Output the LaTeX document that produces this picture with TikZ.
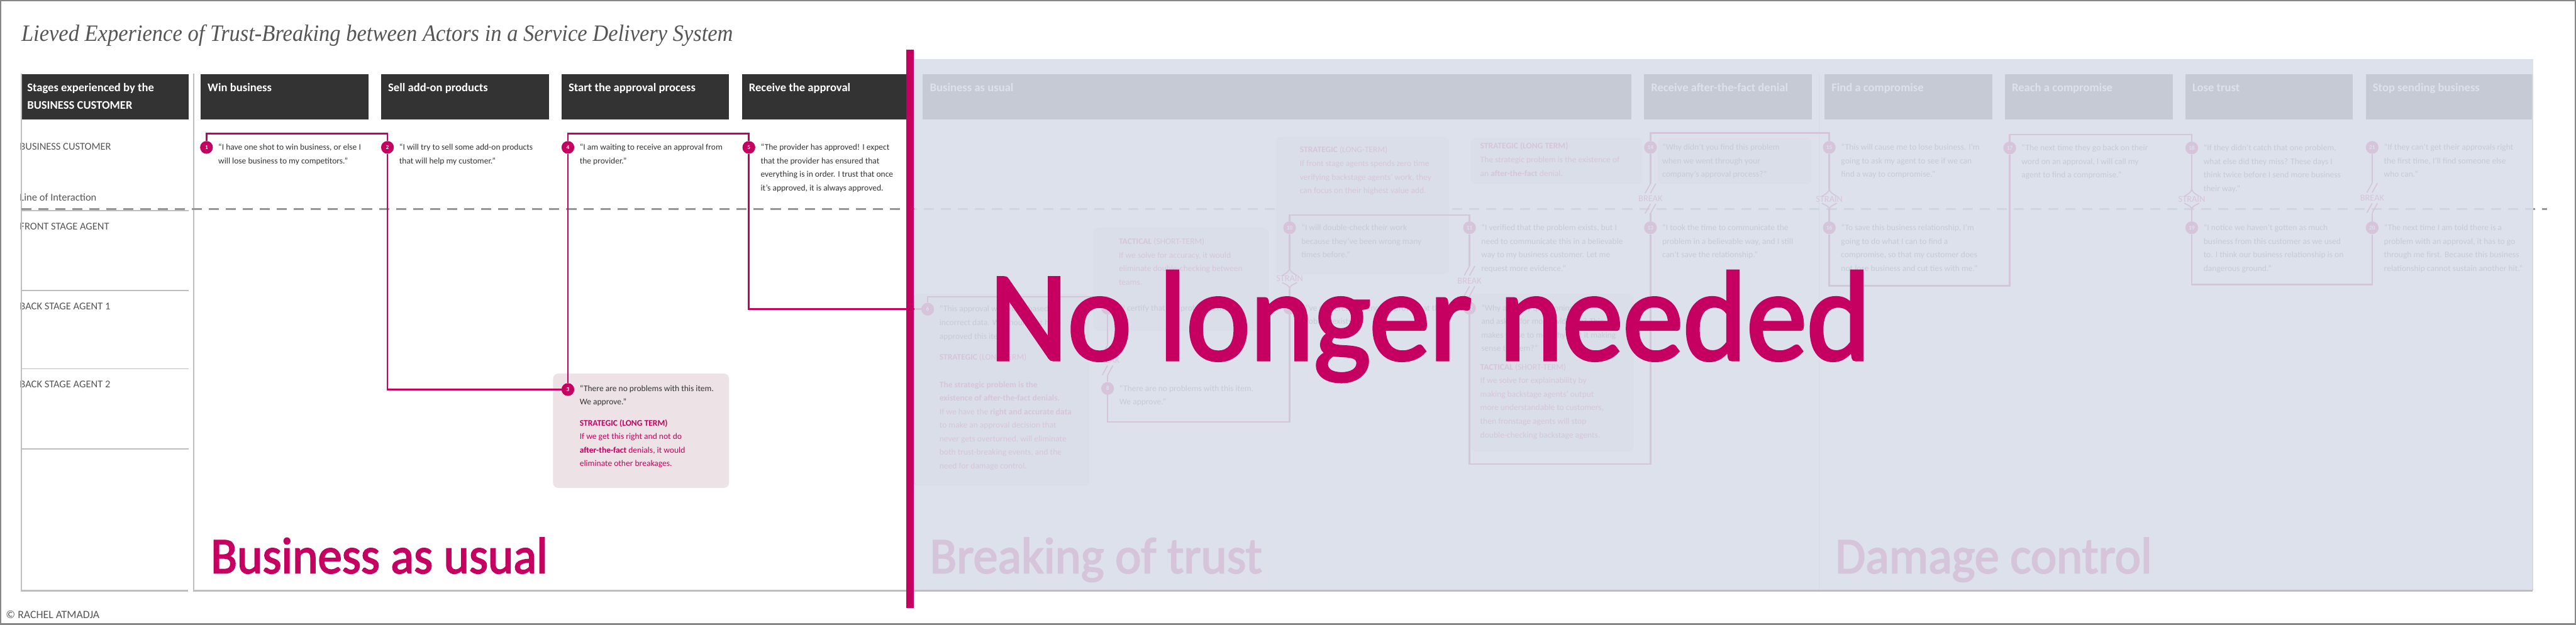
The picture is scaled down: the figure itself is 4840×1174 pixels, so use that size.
\documentclass[tikz,border=0pt]{standalone}
\usepackage{fontspec}
\usepackage{graphicx}
\setmainfont{Carlito}
\newfontfamily\qfam{Carlito}
\newfontfamily\bigfam{Carlito}[FakeBold=2.5]
\newfontfamily\titlefam{Liberation Serif}
\usetikzlibrary{calc}

\definecolor{mag}{RGB}{197,0,96}
\definecolor{hdr}{RGB}{51,51,51}
\definecolor{qgray}{RGB}{51,51,51}
\definecolor{lgray}{RGB}{85,85,85}
\definecolor{pinkbox}{RGB}{237,227,230}
\definecolor{framec}{RGB}{190,190,190}
\definecolor{dashc}{RGB}{150,150,150}
\definecolor{veil}{RGB}{216,222,234}
\definecolor{borderc}{RGB}{135,135,135}

\newcommand{\ql}[1]{\begin{tabular}[t]{@{}l@{}}#1\end{tabular}}
\newcommand{\fitw}[3]{\resizebox{#1}{\height}{\fontsize{#2}{#2}\selectfont #3}}

\newcommand{\brk}[3]{%
  \coordinate (#1-u) at (#2,#3-28);
  \coordinate (#1-d) at (#2,#3+28);
  \draw[mysym] (#2,#3-28) -- (#2-10,#3-10);
  \draw[mysym] (#2+10,#3-28) -- (#2,#3-10);
  \draw[mysym] (#2,#3+28) -- (#2+10,#3+10);
  \draw[mysym] (#2-10,#3+28) -- (#2,#3+10);
  \node[mysymtext] (#1) at (#2,#3+5.5) {BREAK};
}
\newcommand{\strn}[3]{%
  \coordinate (#1-u) at (#2,#3-20);
  \coordinate (#1-d) at (#2,#3+20);
  \draw[mysym] (#2-14,#3-5) .. controls (#2-6,#3-10) and (#2,#3-13) .. (#2,#3-20);
  \draw[mysym] (#2+14,#3-5) .. controls (#2+6,#3-10) and (#2,#3-13) .. (#2,#3-20);
  \draw[mysym] (#2-14,#3+8) .. controls (#2-6,#3+12) and (#2,#3+14) .. (#2,#3+20);
  \draw[mysym] (#2+14,#3+8) .. controls (#2+6,#3+12) and (#2,#3+14) .. (#2,#3+20);
  \node[mysymtext] (#1) at (#2,#3+5.5) {STRAIN};
}

\begin{document}
\begin{tikzpicture}[x=1pt,y=-1pt,
  myconn/.style={draw=mag, line width=3pt},
  mymk/.style={circle, fill=mag, minimum size=24pt, inner sep=0pt, text=white, font=\fontsize{11}{11}\selectfont\bfseries},
  myquote/.style={anchor=base west, inner sep=0pt, text=qgray, font=\qfam\fontsize{16}{25.5}\selectfont},
  mynote/.style={myquote, text=mag},
  myhtext/.style={anchor=base west, inner sep=0pt, text=white, font=\fontsize{22}{33}\selectfont\bfseries},
  mylane/.style={anchor=base west, inner sep=0pt, text=lgray, font=\fontsize{19.5}{19.5}\selectfont},
  mysymtext/.style={anchor=base, inner sep=0pt, text=mag, font=\fontsize{17}{17}\selectfont},
  mysym/.style={draw=mag, line width=2pt},
  myframe/.style={draw=framec, line width=3pt},
  mysep/.style={draw=framec, line width=2pt},
  mybig/.style={anchor=base west, inner sep=0pt, text=mag},
  mypink/.style={fill=pinkbox, rounded corners=10pt},
]
\useasboundingbox (0,0) rectangle (4840,1174);
\fill[white] (0,0) rectangle (4840,1174);
\draw[borderc, line width=2.5pt] (1.25,1.25) rectangle (4838.75,1172.75);

% title
\node[anchor=base west, inner sep=0pt, text=lgray] (title) at (40,77)
  {\fitw{1337pt}{44}{\titlefam\itshape Lieved Experience of Trust-Breaking between Actors in a Service Delivery System}};

% header boxes
\fill[hdr] (41,139) rectangle (354,225);
\fill[hdr] (377,139) rectangle (692,225);
\fill[hdr] (716,139) rectangle (1031,225);
\fill[hdr] (1055,139) rectangle (1370,225);
\fill[hdr] (1394,139) rectangle (1709,225);
\fill[hdr] (1733,139) rectangle (3065,225);
\fill[hdr] (3089,139) rectangle (3404,225);
\fill[hdr] (3428,139) rectangle (3743,225);
\fill[hdr] (3767,139) rectangle (4082,225);
\fill[hdr] (4106,139) rectangle (4421,225);
\fill[hdr] (4445,139) rectangle (4760,225);

\node[myhtext] (h0) at (51,172) {\ql{Stages experienced by the\\BUSINESS CUSTOMER}};
\node[myhtext] (h1) at (390,172) {Win business};
\node[myhtext] (h2) at (729,172) {Sell add-on products};
\node[myhtext] (h3) at (1068,172) {Start the approval process};
\node[myhtext] (h4) at (1407,172) {Receive the approval};
\node[myhtext] (h5) at (1747,172) {Business as usual};
\node[myhtext] (h9) at (3102,172) {Receive after-the-fact denial};
\node[myhtext] (h10) at (3441,172) {Find a compromise};
\node[myhtext] (h11) at (3780,172) {Reach a compromise};
\node[myhtext] (h12) at (4119,172) {Lose trust};
\node[myhtext] (h13) at (4458,172) {Stop sending business};

% lane labels
\node[mylane] (l1) at (37,282) {BUSINESS CUSTOMER};
\node[mylane] (l2) at (37,378) {Line of Interaction};
\node[mylane] (l3) at (37,432) {FRONT STAGE AGENT};
\node[mylane] (l4) at (37,582) {BACK STAGE AGENT 1};
\node[mylane] (l5) at (37,729) {BACK STAGE AGENT 2};

% frame
\draw[myframe] (40,138) -- (40,1110) -- (353,1110);
\draw[myframe] (364,138) -- (364,1110) -- (4758,1110);
\draw[mysep] (3418,139) -- (3418,1110);
\draw[mysep] (4758,139) -- (4758,1110);
\draw[mysep] (40,396) -- (354,396);
\draw[mysep] (40,546) -- (354,546);
\draw[mysep] (40,693) -- (354,693);
\draw[mysep] (40,844) -- (354,844);
\draw[dashc, line width=3pt, dash pattern=on 19pt off 13pt] (40,393) -- (4785,393);

% boxes
\fill[mypink] (1039,702) rectangle (1370,917);
\fill[mypink] (1715,552) rectangle (2047,914);
\fill[mypink] (2054,428) rectangle (2384,622);
\fill[mypink] (2397,257) rectangle (2723,515);
\fill[mypink] (2763,258) rectangle (3085,347);
\fill[mypink] (3115,258) rectangle (3403,347);
\fill[mypink] (2763,552) rectangle (3069,849);

% markers
\node[mymk] (m1) at (388,277) {1};
\node[mymk] (m2) at (728,277) {2};
\node[mymk] (m3) at (1067,732) {3};
\node[mymk] (m4) at (1067,277) {4};
\node[mymk] (m5) at (1407,277) {5};
\node[mymk] (m6) at (1743,581) {6};
\node[mymk] (m7) at (2081,579) {7};
\node[mymk] (m8) at (2081,730) {8};
\node[mymk] (m9) at (2423,579) {9};
\node[mymk] (m10) at (2423,428) {10};
\node[mymk] (m11) at (2761,428) {11};
\node[mymk] (m12) at (2761,579) {12};
\node[mymk] (m13) at (3101,428) {13};
\node[mymk] (m14) at (3101,277) {14};
\node[mymk] (m15) at (3437,277) {15};
\node[mymk] (m16) at (3437,428) {16};
\node[mymk] (m17) at (3776,278) {17};
\node[mymk] (m18) at (4118,278) {18};
\node[mymk] (m19) at (4118,428) {19};
\node[mymk] (m20) at (4457,428) {20};
\node[mymk] (m21) at (4457,277) {21};

% corner coordinates
\coordinate (k1) at (388,251);
\coordinate (k2) at (728,251);
\coordinate (k3) at (728,732);
\coordinate (k4) at (1067,251);
\coordinate (k5) at (1407,251);
\coordinate (k6) at (1407,581);
\coordinate (k7) at (1743,558);
\coordinate (k8) at (2081,558);
\coordinate (k9) at (2081,793);
\coordinate (k10) at (2423,793);
\coordinate (k11) at (2423,404);
\coordinate (k12) at (2761,404);
\coordinate (k13) at (2761,872);
\coordinate (k14) at (3101,872);
\coordinate (k15) at (3101,250);
\coordinate (k16) at (3437,250);
\coordinate (k17) at (3437,537);
\coordinate (k18) at (3776,537);
\coordinate (k19) at (3776,253);
\coordinate (k20) at (4118,253);
\coordinate (k21) at (4118,535);
\coordinate (k22) at (4457,535);

% symbols
\brk{b1}{2081}{677}
\strn{s1}{2423}{523}
\brk{b2}{2761}{528}
\brk{b3}{3101}{373}
\strn{s2}{3437}{374}
\strn{s3}{4118}{374}
\brk{b4}{4457}{372}

% connectors
\draw[myconn] (m1) -- (k1) -- (k2) -- (m2);
\draw[myconn] (m2) -- (k3) -- (m3);
\draw[myconn] (m3) -- (m4);
\draw[myconn] (m4) -- (k4) -- (k5) -- (m5);
\draw[myconn] (m5) -- (k6) -- (m6);
\draw[myconn] (m6) -- (k7) -- (k8) -- (m7);
\draw[myconn] (m7) -- (b1-u);
\draw[myconn] (b1-d) -- (m8);
\draw[myconn] (m8) -- (k9) -- (k10) -- (m9);
\draw[myconn] (m9) -- (s1-d);
\draw[myconn] (s1-u) -- (m10);
\draw[myconn] (m10) -- (k11) -- (k12) -- (m11);
\draw[myconn] (m11) -- (b2-u);
\draw[myconn] (b2-d) -- (m12);
\draw[myconn] (m12) -- (k13) -- (k14) -- (m13);
\draw[myconn] (m13) -- (b3-d);
\draw[myconn] (b3-u) -- (m14);
\draw[myconn] (m14) -- (k15) -- (k16) -- (m15);
\draw[myconn] (m15) -- (s2-u);
\draw[myconn] (s2-d) -- (m16);
\draw[myconn] (m16) -- (k17) -- (k18) -- (m17);
\draw[myconn] (m17) -- (k19) -- (k20) -- (m18);
\draw[myconn] (m18) -- (s3-u);
\draw[myconn] (s3-d) -- (m19);
\draw[myconn] (m19) -- (k21) -- (k22) -- (m20);
\draw[myconn] (m20) -- (b4-d);
\draw[myconn] (b4-u) -- (m21);

% texts (visible part)
\node[myquote] (t1) at (410,282) {\ql{“I have one shot to win business, or else I\\will lose business to my competitors.”}};
\node[myquote] (t2) at (750,282) {\ql{“I will try to sell some add-on products\\that will help my customer.”}};
\node[myquote] (t4) at (1089,282) {\ql{“I am waiting to receive an approval from\\the provider.”}};
\node[myquote] (t5) at (1429,282) {\ql{“The provider has approved! I expect\\that the provider has ensured that\\everything is in order. I trust that once\\it’s approved, it is always approved.}};
\node[myquote] (t3) at (1089,735) {\ql{“There are no problems with this item.\\We approve.”}};
\node[mynote] (n3) at (1089,800) {\ql{\textbf{STRATEGIC (LONG TERM)}\\If we get this right and not do\\\textbf{after-the-fact} denials, it would\\eliminate other breakages.}};

% texts (faded part)
\node[myquote] (t6) at (1765,586) {\ql{“This approval was made based on\\incorrect data. We should not have\\approved this item.”}};
\node[mynote] (n6a) at (1765,677) {\textbf{STRATEGIC} (LONG TERM)};
\node[mynote] (n6b) at (1765,728) {\ql{\textbf{The strategic problem is the}\\\textbf{existence of after-the-fact denials.}\\If we have the \textbf{right and accurate data}\\to make an approval decision that\\never gets overturned, will eliminate\\both trust-breaking events, and the\\need for damage control.}};
\node[mynote] (n7) at (2102,459) {\ql{\textbf{TACTICAL} (SHORT-TERM)\\If we solve for accuracy, it would\\eliminate double-checking between\\teams.}};
\node[myquote] (t7) at (2103,584) {“I certify that the problem exists.”};
\node[myquote] (t8) at (2103,735) {\ql{“There are no problems with this item.\\We approve.”}};
\node[myquote] (t9) at (2445,584) {\ql{“I’ve gathered evidence to prove that the\\problem exists.”}};
\node[mynote] (n10) at (2442,287) {\ql{\textbf{STRATEGIC} (LONG-TERM)\\If front stage agents spends zero time\\verifying backstage agents’ work, they\\can focus on their highest value add.}};
\node[myquote] (t10) at (2445,433) {\ql{“I will double-check their work\\because they’ve been wrong many\\times before.”}};
\node[myquote] (t11) at (2783,433) {\ql{“I verified that the problem exists, but I\\need to communicate this in a believable\\way to my business customer. Let me\\request more evidence.”}};
\node[myquote] (t12) at (2783,584) {\ql{“Why are they questioning me\\and asking for more evidence? This\\makes sense to me, why isn’t it making\\sense to them?”}};
\node[mynote] (n12) at (2781,695) {\ql{\textbf{TACTICAL} (SHORT-TERM)\\If we solve for explainability by\\making backstage agents’ output\\more understandable to customers,\\then fronstage agents will stop\\double-checking backstage agents.}};
\node[mynote] (n13) at (2781,280) {\ql{\textbf{STRATEGIC (LONG TERM)}\\The strategic problem is the existence of\\an \textbf{after-the-fact} denial.}};
\node[myquote] (t13) at (3123,433) {\ql{“I took the time to communicate the\\problem in a believable way, and I still\\can’t save the relationship.”}};
\node[myquote] (t14) at (3123,282) {\ql{“Why didn’t you find this problem\\when we went through your\\company’s approval process?”}};
\node[myquote] (t15) at (3459,282) {\ql{“This will cause me to lose business. I’m\\going to ask my agent to see if we can\\find a way to compromise.”}};
\node[myquote] (t16) at (3459,433) {\ql{“To save this business relationship, I’m\\going to do what I can to find a\\compromise, so that my customer does\\not lose business and cut ties with me.”}};
\node[myquote] (t17) at (3798,283) {\ql{“The next time they go back on their\\word on an approval, I will call my\\agent to find a compromise.”}};
\node[myquote] (t18) at (4140,283) {\ql{“If they didn’t catch that one problem,\\what else did they miss? These days I\\think twice before I send more business\\their way.”}};
\node[myquote] (t19) at (4140,433) {\ql{“I notice we haven’t gotten as much\\business from this customer as we used\\to. I think our business relationship is on\\dangerous ground.”}};
\begin{scope}
\clip (4460,395) rectangle (4758,560);
\node[myquote] (t20) at (4479,433) {\ql{“The next time I am told there is a\\problem with an approval, it has to go\\through me first. Because this business\\relationship cannot sustain another hit.”}};
\end{scope}
\node[myquote] (t21) at (4479,282) {\ql{“If they can’t get their approvals right\\the first time, I’ll find someone else\\who can.”}};

% section titles
\node[mybig] (bau) at (396,1077) {\fitw{633pt}{96}{\bigfam Business as usual}};
\node[mybig] (bot) at (1747,1077) {\fitw{624pt}{96}{\bigfam Breaking of trust}};
\node[mybig] (dmc) at (3448,1077) {\fitw{595pt}{96}{\bigfam Damage control}};

% veil over the no-longer-needed part
\fill[veil, fill opacity=0.887] (1718,111) rectangle (4760,1108);

% copyright
\node[anchor=base west, inner sep=0pt, text=lgray, font=\fontsize{21}{21}\selectfont] (copy) at (11,1162) {© RACHEL ATMADJA};

% cut line and stamp
\draw[mag, line width=14pt] (1710,93) -- (1710,1143);
\node[mybig] (nln) at (1859,676) {\fitw{1655pt}{240}{\bigfam No longer needed}};
\end{tikzpicture}
\end{document}
